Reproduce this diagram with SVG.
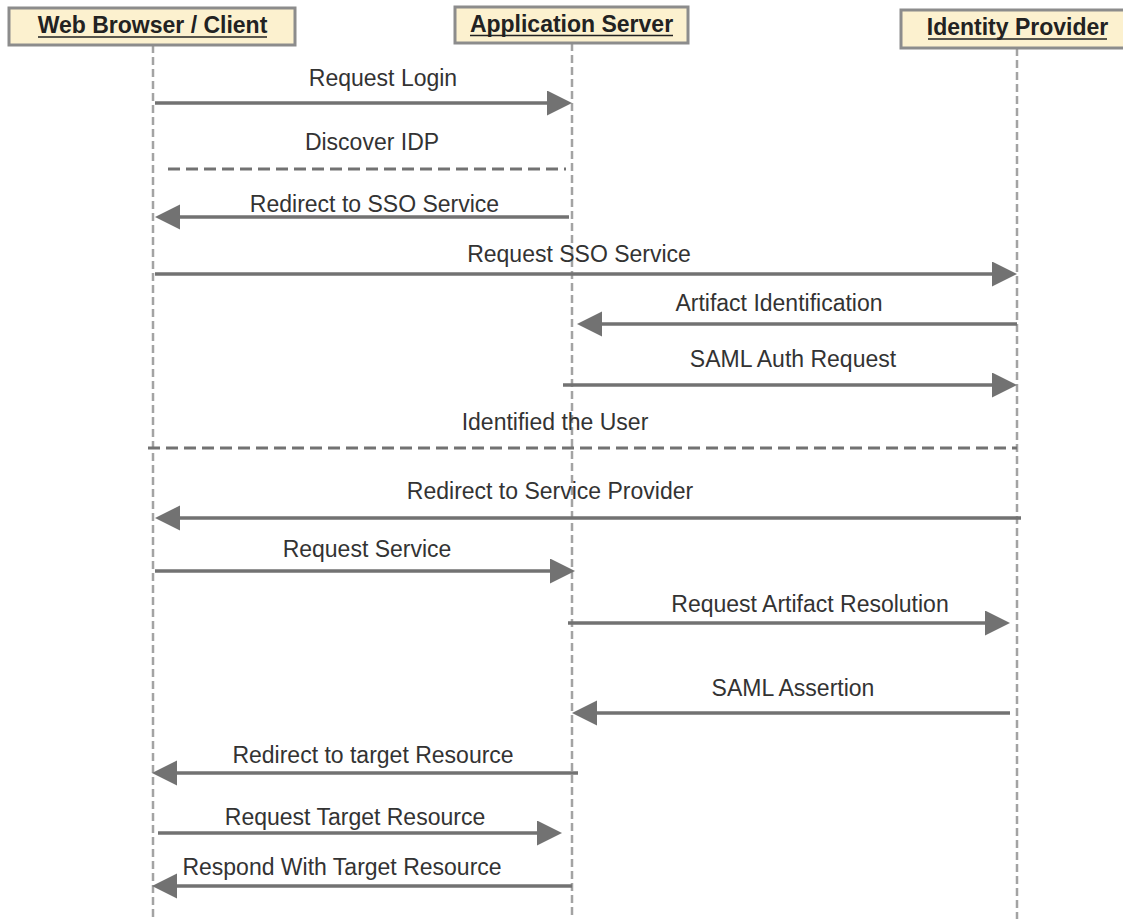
<svg xmlns="http://www.w3.org/2000/svg" width="1123" height="919" viewBox="0 0 1123 919">
<defs>
<style>
.hdr{fill:#fcf1cf;stroke:#8c8c8c;stroke-width:3}
.htxt{font-family:"Liberation Sans",Arial,sans-serif;font-weight:bold;font-size:23px;fill:#222;text-anchor:middle}
.uline{stroke:#222;stroke-width:1.6}
.life{stroke:#a3a3a3;stroke-width:2.5;stroke-dasharray:8 4;fill:none}
.msg{stroke:#727272;stroke-width:3.5;fill:none}
.dash{stroke:#727272;stroke-width:3;stroke-dasharray:12 6;fill:none}
.lbl{font-family:"Liberation Sans",Arial,sans-serif;font-size:23px;fill:#333;text-anchor:middle}
</style>
<marker id="ah" markerUnits="userSpaceOnUse" markerWidth="26" markerHeight="26" refX="5" refY="12.5" orient="auto" viewBox="0 0 26 26">
<path d="M0,0 L25,12.5 L0,25 z" fill="#727272"/>
</marker>
</defs>
<rect width="1123" height="919" fill="#ffffff"/>

<g id="lifelines">
<line class="life" x1="153" y1="45" x2="153" y2="919"/>
<line class="life" x1="572" y1="43" x2="572" y2="919"/>
<line class="life" x1="1017" y1="48" x2="1017" y2="919"/>
</g>

<g id="node-client">
<rect class="hdr" x="9" y="8" width="286" height="37"/>
<text class="htxt" x="152.5" y="33">Web Browser / Client</text>
<line class="uline" x1="38" y1="37" x2="267" y2="37"/>
</g>
<g id="node-appserver">
<rect class="hdr" x="455" y="7" width="233" height="36"/>
<text class="htxt" x="571.5" y="32">Application Server</text>
<line class="uline" x1="470" y1="35.5" x2="673" y2="35.5"/>
</g>
<g id="node-idp">
<rect class="hdr" x="901" y="10" width="224" height="38"/>
<text class="htxt" x="1017.5" y="35">Identity Provider</text>
<line class="uline" x1="928" y1="39" x2="1107" y2="39"/>
</g>

<g id="connectors">
<line class="msg" x1="155" y1="103" x2="552" y2="103" marker-end="url(#ah)"/>
<line class="dash" x1="168" y1="169" x2="566" y2="169"/>
<line class="msg" x1="569" y1="217" x2="175" y2="217" marker-end="url(#ah)"/>
<line class="msg" x1="155" y1="274" x2="997" y2="274" marker-end="url(#ah)"/>
<line class="msg" x1="1017" y1="324" x2="597" y2="324" marker-end="url(#ah)"/>
<line class="msg" x1="563" y1="385" x2="997" y2="385" marker-end="url(#ah)"/>
<line class="dash" x1="148" y1="448" x2="1017" y2="448"/>
<line class="msg" x1="1021" y1="518" x2="175" y2="518" marker-end="url(#ah)"/>
<line class="msg" x1="155" y1="571" x2="555" y2="571" marker-end="url(#ah)"/>
<line class="msg" x1="568" y1="623" x2="990" y2="623" marker-end="url(#ah)"/>
<line class="msg" x1="1010" y1="713" x2="592" y2="713" marker-end="url(#ah)"/>
<line class="msg" x1="578" y1="773" x2="172" y2="773" marker-end="url(#ah)"/>
<line class="msg" x1="158" y1="833" x2="542" y2="833" marker-end="url(#ah)"/>
<line class="msg" x1="572" y1="886" x2="172" y2="886" marker-end="url(#ah)"/>
</g>

<g id="labels">
<text class="lbl" x="383" y="86">Request Login</text>
<text class="lbl" x="372" y="150">Discover IDP</text>
<text class="lbl" x="374.5" y="212">Redirect to SSO Service</text>
<text class="lbl" x="579" y="262">Request SSO Service</text>
<text class="lbl" x="779" y="311">Artifact Identification</text>
<text class="lbl" x="793" y="367">SAML Auth Request</text>
<text class="lbl" x="555" y="430">Identified the User</text>
<text class="lbl" x="550" y="499">Redirect to Service Provider</text>
<text class="lbl" x="367" y="557">Request Service</text>
<text class="lbl" x="810" y="612">Request Artifact Resolution</text>
<text class="lbl" x="793" y="696">SAML Assertion</text>
<text class="lbl" x="373" y="763">Redirect to target Resource</text>
<text class="lbl" x="355" y="825">Request Target Resource</text>
<text class="lbl" x="342" y="875">Respond With Target Resource</text>
</g>
</svg>
